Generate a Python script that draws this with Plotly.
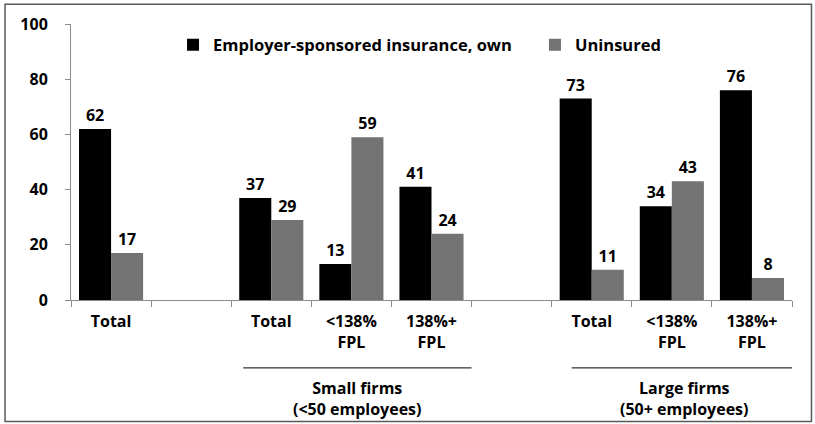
import plotly.graph_objects as go

categories = ["Total", "", "Total", "<138%<br>FPL", "138%+<br>FPL", "", "Total", "<138%<br>FPL", "138%+<br>FPL"]
esi_own = [62, None, 37, 13, 41, None, 73, 34, 76]
uninsured = [17, None, 29, 59, 24, None, 11, 43, 8]
groups = ["Small firms<br>(<50 employees)", "Large firms<br>(50+ employees)"]
group_spans = [(1.65, 4.5), (5.75, 8.55)]

FONT = dict(family="'Open Sans', sans-serif", size=16, color="black", weight="bold")
x = list(range(len(categories)))

fig = go.Figure()
fig.add_bar(x=x, y=esi_own, name="Employer-sponsored insurance, own",
            marker=dict(color="#000000", line=dict(width=0)),
            text=esi_own, textposition="outside", cliponaxis=False, legend="legend")
fig.add_bar(x=x, y=uninsured, name="Uninsured",
            marker=dict(color="#737373", line=dict(width=0)),
            text=uninsured, textposition="outside", cliponaxis=False, legend="legend2")
fig.update_traces(textfont=FONT, outsidetextfont=FONT)

legend_style = dict(orientation="h", y=0.924, xanchor="left", yanchor="middle",
                    font=dict(FONT, size=16.5), bgcolor="rgba(0,0,0,0)", itemwidth=30)
fig.update_layout(
    width=815, height=424,
    margin=dict(l=71, r=23, t=24, b=124),
    paper_bgcolor="white", plot_bgcolor="white",
    font=FONT,
    barmode="group", bargap=0.2, bargroupgap=0,
    showlegend=True,
    legend=dict(legend_style, x=0.1415),
    legend2=dict(legend_style, x=0.6435),
)
fig.update_xaxes(range=[-0.5, len(categories) - 0.5], tickvals=x, ticktext=categories,
                 showline=True, linecolor="#8c8c8c", linewidth=1, ticks="", showgrid=False,
                 zeroline=False, tickfont=FONT, ticklabelstandoff=7,
                 minor=dict(tickvals=[i - 0.5 for i in range(len(categories) + 1)],
                            ticks="outside", ticklen=6, tickcolor="#8c8c8c", showgrid=False))
fig.update_yaxes(range=[0, 100], dtick=20, showline=True, linecolor="#8c8c8c", linewidth=1,
                 ticks="outside", ticklen=5, tickcolor="#8c8c8c", showgrid=False,
                 zeroline=False, tickfont=FONT, ticklabelstandoff=14)

for label, (a, b) in zip(groups, group_spans):
    fig.add_shape(type="line", xref="x", yref="paper", x0=a, x1=b, y0=-0.246, y1=-0.246,
                  line=dict(color="black", width=1))
    fig.add_annotation(text=label, xref="x", yref="paper", x=(a + b) / 2, y=-0.27,
                       xanchor="center", yanchor="top", showarrow=False, font=FONT)

# outer border
fig.add_shape(type="rect", xref="paper", yref="paper", x0=-0.0915, x1=1.027, y0=-0.44, y1=1.072,
              line=dict(color="#595959", width=1.5))

fig.write_html("out.html", config={"displayModeBar": False},
               post_script="document.body.style.margin='0';")
